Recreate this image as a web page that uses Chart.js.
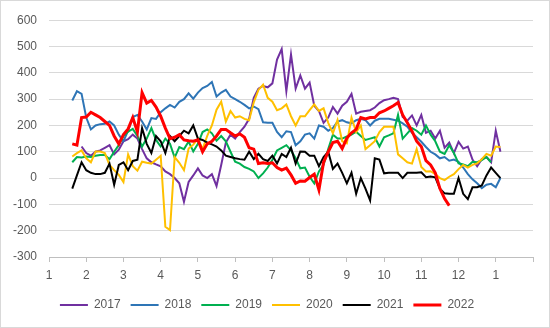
<!DOCTYPE html>
<html>
<head>
<meta charset="utf-8">
<script src="https://cdn.jsdelivr.net/npm/chart.js@4"></script>
<style>
  html, body { margin: 0; padding: 0; background: #fff; }
  #wrap { position: relative; width: 550px; height: 328px; box-sizing: border-box; border: 1px solid #d9d9d9; }
  canvas { display: block; }
</style>
</head>
<body>
<div id="wrap"><canvas id="chart"></canvas></div>
<script>
// x positions in months since 1 Jan (0 = "1", 12 = next "1")
const months = [
  0.625, 0.75, 0.875, 1, 1.125, 1.25, 1.375, 1.5, 1.625, 1.75, 1.875, 2, 2.125, 2.25, 2.375, 2.5,
  2.625, 2.75, 2.875, 3, 3.125, 3.25, 3.375, 3.5, 3.625, 3.75, 3.875, 4, 4.125, 4.25, 4.375, 4.5,
  4.625, 4.75, 4.875, 5, 5.125, 5.25, 5.375, 5.5, 5.625, 5.75, 5.875, 6, 6.125, 6.25, 6.375, 6.5,
  6.625, 6.75, 6.875, 7, 7.125, 7.25, 7.375, 7.5, 7.625, 7.75, 7.875, 8, 8.125, 8.25, 8.375, 8.5,
  8.625, 8.75, 8.875, 9, 9.125, 9.25, 9.375, 9.5, 9.625, 9.75, 9.875, 10, 10.125, 10.25, 10.375, 10.5,
  10.625, 10.75, 10.875, 11, 11.125, 11.25, 11.375, 11.5, 11.625, 11.75, 11.875, 12, 12.125
];
const monthLabels = ['1', '2', '3', '4', '5', '6', '7', '8', '9', '10', '11', '12', '1', ''];
const yearNames = ['2017', '2018', '2019', '2020', '2021', '2022'];

const s2017 = [
  null, null, 120, 95, 85, 100, 105, 115, 125, 90,
  108, 140, 148, 165, 150, 110, 75, 60, 52, 45,
  25, 15, 0, -20, -90, -15, 10, 37, 10, 0,
  15, -30, 50, 135, 165, 150, 175, 195, 225, 305,
  340, 350, 345, 360, 450, 490, 330, 470, 340, 390,
  340, 363, 275, 255, 210, 230, 270, 245, 275, 290,
  320, 245, 252, 255, 258, 268, 285, 296, 300, 305,
  300, 232, 218, 238, 200, 240, 172, 180, 150, 180,
  115, 135, 95, 138, 112, 120, 70, 45, 72, 80,
  60, 180, 100
];
const s2018 = [
  295, 330, 320, 230, 185, 200, 205, 206, 215, 200,
  165, 140, 180, 232, 240, 215, 185, 228, 225, 250,
  265, 278, 268, 290, 300, 322, 302, 325, 342, 350,
  365, 310, 325, 335, 310, 300, 290, 278, 265, 272,
  262, 212, 210, 210, 175, 155, 178, 175, 125, 140,
  165, 170, 150, 200, 195, 180, 190, 215, 220, 212,
  208, 220, 225, 220, 200, 218, 225, 225, 225, 222,
  218, 208, 195, 172, 155, 138, 118, 100, 90, 75,
  80, 66, 70, 62, 40, 15, -5, -20, -38, -25,
  -22, -35, 0
];
const s2019 = [
  60, 80, 78, 82, 80, 85, 88, 88, 72, 100,
  125, 160, 176, 187, 160, 120, 150, 190, 145, 120,
  150, 130, 78, 118, 110, 139, 101, 130, 175, 185,
  170, 142, 160, 140, 100, 62, 55, 42, 35, 25,
  0, 18, 40, 70, 105, 115, 125, 105, 75, 37,
  40, 5, -20, 25, 50, 110, 165, 150, 150, 158,
  165, 176, 160, 145, 150, 155, 120, 155, 162, 170,
  240, 150, 170, 190, 180, 165, 200, 165, 140, 100,
  92, 125, 95, 56, 52, 45, 62, 60, 68, 80,
  60, null, null
];
const s2020 = [
  82, 95, 105, 75, 60, 101, 101, 95, 50, 30,
  12, -15, 90, 45, 28, 62, 58, 55, 70, 85,
  -185, -198, 80, 58, 30, 112, 127, 150, 110, 160,
  200, 260, 290, 215, 255, 230, 235, 225, 220, 288,
  335, 355, 305, 290, 258, 265, 280, 235, 200, 235,
  235, 258, 280, 255, 265, 210, 170, 221, 140, 132,
  230, 175, 200, 110, 125, 140, 175, 195, 195, 195,
  90, 75, 60, 55, 110, 42, 25, 26, 15, 0,
  -8, 5, 15, 34, 50, 40, 50, 56, 72, 92,
  85, 120, 118
];
const s2021 = [
  -40, 10, 60, 30, 20, 15, 15, 20, 55, -25,
  50, 60, 30, 65, 70, 190, 130, 95, 160, 140,
  95, 160, 140, 160, 180, 170, 200, 150, 145, 135,
  128, 120, 105, 85, 80, 75, 72, 70, 100, 72,
  92, 72, 65, 85, 56, 92, 80, 115, 55, 101,
  100, 85, 85, 45, 80, 100, 35, 55, 20, -20,
  20, -60, 0, -40, -85, 75, 70, 18, 20, 20,
  20, 0, 20, 20, 20, 22, 3, 6, 3, -40,
  -58, -60, -60, 0, -60, -80, -35, -35, -28, 10,
  40, 20, 0
];
const s2022 = [
  130, 125, 230, 232, 250, 240, 230, 215, 200, 160,
  130, 165, 187, 230, 175, 325, 285, 295, 270, 235,
  190, 150, 155, 165, 145, 142, 140, 145, 100, 130,
  140, 160, 185, 185, 172, 160, 168, 155, 115, 110,
  55, 58, 55, 58, 40, 30, 38, 12, -20, -11,
  -12, 2, 15, -45, 60, 100, 135, 140, 112, 152,
  172, 185, 230, 225, 230, 230, 248, 255, 265, 275,
  287, 240, 210, 178, 140, 120, 66, 50, 20, -40,
  -78, -105, null, null, null, null, null, null, null, null,
  null, null, null
];

const seriesValues = [s2017, s2018, s2019, s2020, s2021, s2022];
const colors = ['#7030a0', '#2e75b6', '#00b050', '#ffc000', '#000000', '#ff0000'];
const widths = [2, 2, 2, 2, 2, 3];

const fontFamily = "'Liberation Sans', Arial, sans-serif";
const textColor = '#595959';

new Chart(document.getElementById('chart'), {
  type: 'line',
  data: {
    datasets: yearNames.map((name, i) => ({
      label: name,
      data: months.map((m, j) => ({ x: m, y: seriesValues[i][j] })),
      borderColor: colors[i],
      backgroundColor: colors[i],
      borderWidth: widths[i],
      pointRadius: 0,
      tension: 0,
      fill: false,
      // later years drawn on top, like the spreadsheet
      order: yearNames.length - i
    }))
  },
  options: {
    responsive: true,
    maintainAspectRatio: false,
    animation: false,
    layout: { padding: { top: 16, right: 16, bottom: 6, left: 0 } },
    plugins: {
      legend: {
        position: 'bottom',
        labels: {
          usePointStyle: true,
          pointStyle: 'line',
          pointStyleWidth: 28,
          boxHeight: 12,
          padding: 10,
          color: textColor,
          font: { size: 12, family: fontFamily },
          sort: (a, b) => a.datasetIndex - b.datasetIndex
        }
      },
      tooltip: { enabled: false }
    },
    scales: {
      x: {
        type: 'linear',
        min: 0,
        max: 13,
        afterFit: s => { s.height = 32; },
        ticks: {
          stepSize: 1,
          autoSkip: false,
          maxRotation: 0,
          padding: 6,
          color: textColor,
          font: { size: 12, family: fontFamily },
          callback: v => monthLabels[v]
        },
        grid: { drawOnChartArea: false, drawTicks: true, tickLength: 5, color: '#bfbfbf' },
        border: { color: '#bfbfbf' }
      },
      y: {
        min: -300,
        max: 600,
        afterFit: s => { s.width = 48; },
        ticks: {
          stepSize: 100,
          padding: 12,
          color: textColor,
          font: { size: 12, family: fontFamily }
        },
        grid: { color: '#d9d9d9', drawTicks: false },
        border: { display: false }
      }
    }
  }
});
</script>
</body>
</html>
